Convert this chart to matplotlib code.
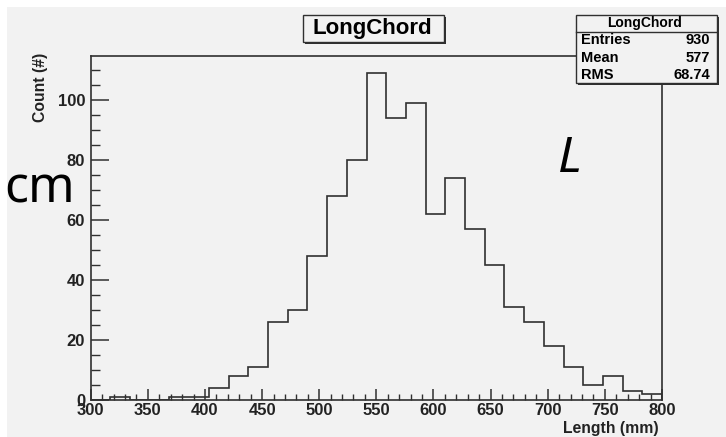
import numpy as np
import matplotlib
matplotlib.use("Agg")
import matplotlib.pyplot as plt
from matplotlib.patches import Rectangle
from matplotlib.ticker import MultipleLocator

# histogram data (29 bins from 300 to 800 mm)
x_min = 300
x_max = 800
counts = [0, 1, 0, 0, 1, 1, 4, 8, 11, 26, 30, 48, 68, 80, 109,
          94, 99, 62, 74, 57, 45, 31, 26, 18, 11, 5, 8, 3, 2]
stat_names = ["Entries", "Mean", "RMS"]
stat_values = ["930", "577", "68.74"]
hist_name = "LongChord"

W, H = 726, 437
BG = "#f2f2f2"
LINE = "#303030"
FONT = "Liberation Sans"


def px(x, y):
    # pixel coords (top-left origin) -> figure fraction
    return x / W, 1 - y / H


def box(fig, x0, y0, x1, y1, shadow=2):
    fx, fy = px(x0 + shadow, y1 + shadow)
    fig.add_artist(Rectangle((fx, fy), (x1 - x0) / W, (y1 - y0) / H,
                             transform=fig.transFigure, facecolor=LINE,
                             edgecolor="none", zorder=5))
    fx, fy = px(x0, y1)
    fig.add_artist(Rectangle((fx, fy), (x1 - x0) / W, (y1 - y0) / H,
                             transform=fig.transFigure, facecolor=BG,
                             edgecolor=LINE, linewidth=1.0, zorder=6))


def main():
    edges = np.linspace(x_min, x_max, len(counts) + 1)

    fig = plt.figure(figsize=(W / 100, H / 100), dpi=100, facecolor="white")
    fig.add_artist(Rectangle(px(7, H), (W - 7) / W, (H - 7) / H,
                             transform=fig.transFigure, facecolor=BG,
                             edgecolor="none", zorder=0))

    l, t = px(90.7, 56)
    r, b = px(662, 400)
    ax = fig.add_axes([l, b, r - l, t - b])
    ax.set_facecolor(BG)
    ax.stairs(counts, edges, color=LINE, linewidth=1.2)
    ax.set_xlim(x_min, x_max)
    ax.set_ylim(0, 114.7)

    for s in ax.spines.values():
        s.set_color(LINE)
        s.set_linewidth(1.2)

    ax.xaxis.set_major_locator(MultipleLocator(50))
    ax.xaxis.set_minor_locator(MultipleLocator(10))
    ax.yaxis.set_major_locator(MultipleLocator(20))
    ax.yaxis.set_minor_locator(MultipleLocator(5))
    ax.tick_params(axis="x", which="major", direction="in", length=8, width=1.1,
                   color=LINE, pad=2)
    ax.tick_params(axis="x", which="minor", direction="in", length=4, width=1.0,
                   color=LINE)
    ax.tick_params(axis="y", which="major", direction="in", length=13, width=1.1,
                   color=LINE, pad=4)
    ax.tick_params(axis="y", which="minor", direction="in", length=6.5, width=1.0,
                   color=LINE)
    ax.tick_params(top=False, right=False)
    for lab in ax.get_xticklabels() + ax.get_yticklabels():
        lab.set_fontfamily(FONT)
        lab.set_fontweight("bold")
        lab.set_fontsize(12)
        lab.set_color("#222222")

    # axis titles, ROOT style (aligned to the axis ends)
    fig.text(*px(659, 428), "Length (mm)", ha="right", va="center",
             family=FONT, weight="bold", fontsize=11.3, color="#222222")
    fig.text(*px(40, 53), "Count (#)", ha="center", va="top", rotation=90,
             family=FONT, weight="bold", fontsize=11.3, color="#222222")

    # title box
    box(fig, 303, 15, 444, 42)
    fig.text(*px(372, 28.5), hist_name, ha="center", va="center",
             family=FONT, weight="bold", fontsize=16, color="black", zorder=7)

    # stats box
    box(fig, 576, 15, 717, 83)
    fig.add_artist(plt.Line2D([576 / W, 717 / W], [1 - 31.5 / H] * 2,
                              transform=fig.transFigure, color=LINE,
                              linewidth=1.0, zorder=7))
    fig.text(*px(645, 23), hist_name, ha="center", va="center",
             family=FONT, weight="bold", fontsize=10, zorder=7)
    for i, (n, v) in enumerate(zip(stat_names, stat_values)):
        y = 40 + i * 17.5
        fig.text(*px(581, y), n, ha="left", va="center",
                 family=FONT, weight="bold", fontsize=10.5, zorder=7)
        fig.text(*px(710, y), v, ha="right", va="center",
                 family=FONT, weight="bold", fontsize=10.5, zorder=7)

    # overlaid labels
    fig.text(*px(4, 203), "cm", ha="left", va="baseline",
             family="Noto Sans", fontsize=36, color="black", zorder=8)
    fig.text(*px(558, 172), "L", ha="left", va="baseline",
             family="Noto Sans", style="italic", fontsize=36, color="black",
             zorder=8)

    fig.savefig("out.png", dpi=100, facecolor=fig.get_facecolor())


if __name__ == "__main__":
    main()
